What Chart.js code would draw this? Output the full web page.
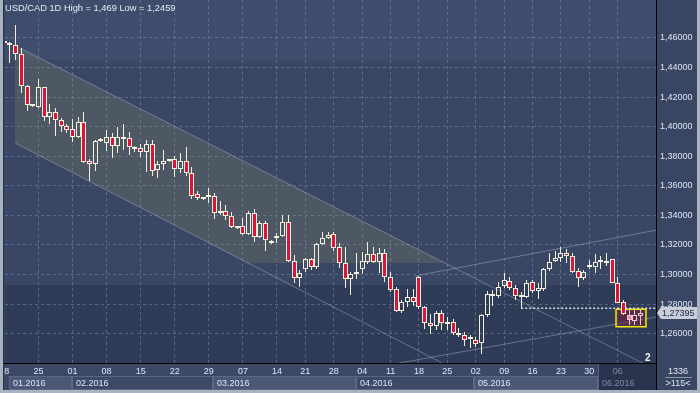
<!DOCTYPE html>
<html><head><meta charset="utf-8">
<script src="https://cdn.jsdelivr.net/npm/chart.js@4.4.0/dist/chart.umd.min.js"></script>
<style>
html,body{margin:0;padding:0;background:#3a4866;overflow:hidden}
canvas{display:block}
</style></head><body>
<canvas id="c" width="700" height="393"></canvas>
<script>
// ---- data (candle index k = trading day, k=0 is the partly hidden first candle) ----
const openP  = [1.4563,1.4555,1.4553,1.4490,1.4275,1.4141,1.4135,1.4266,1.4067,1.4099,1.4045,1.4005,1.3984,1.3928,1.4030,1.3768,1.3745,1.3903,1.3888,1.3928,1.3871,1.3928,1.3921,1.3860,1.3854,1.3831,1.3883,1.3707,1.3745,1.3767,1.3779,1.3712,1.3768,1.3685,1.3542,1.3509,1.3525,1.3531,1.3414,1.3429,1.3396,1.3312,1.3328,1.3272,1.3414,1.3252,1.3346,1.3229,1.3245,1.3262,1.3357,1.3093,1.2974,1.3035,1.3103,1.3049,1.3204,1.3245,1.3272,1.3188,1.3076,1.2967,1.3001,1.3035,1.3087,1.3137,1.3087,1.3143,1.2981,1.2900,1.2755,1.2816,1.2846,1.2981,1.2782,1.2670,1.2651,1.2737,1.2663,1.2676,1.2602,1.2591,1.2561,1.2557,1.2534,1.2726,1.2868,1.2852,1.2922,1.2958,1.2906,1.2846,1.2846,1.2951,1.2890,1.2900,1.3035,1.3093,1.3114,1.3143,1.3125,1.3024,1.2974,1.3052,1.3049,1.3087,1.3076,1.3103,1.2940,1.2816,1.2726,1.2687,1.2721];
const highP  = [1.4568,1.4575,1.4690,1.4530,1.4280,1.4153,1.4321,1.4270,1.4153,1.4124,1.4061,1.4018,1.4054,1.4068,1.4097,1.3779,1.3910,1.3921,1.3978,1.3955,1.3996,1.4018,1.3966,1.3869,1.3883,1.3910,1.3910,1.3770,1.3842,1.3775,1.3802,1.3820,1.3865,1.3729,1.3565,1.3526,1.3583,1.3553,1.3499,1.3470,1.3425,1.3328,1.3384,1.3432,1.3441,1.3362,1.3362,1.3233,1.3283,1.3402,1.3402,1.3132,1.3030,1.3109,1.3111,1.3211,1.3290,1.3290,1.3290,1.3215,1.3184,1.3019,1.3143,1.3150,1.3218,1.3184,1.3177,1.3170,1.3015,1.2917,1.2827,1.2900,1.2900,1.2990,1.2785,1.2730,1.2755,1.2760,1.2714,1.2697,1.2636,1.2613,1.2591,1.2575,1.2733,1.2888,1.2895,1.2951,1.3012,1.2983,1.2929,1.2883,1.2963,1.2963,1.2944,1.3042,1.3147,1.3161,1.3184,1.3170,1.3143,1.3042,1.3030,1.3098,1.3139,1.3125,1.3143,1.3106,1.2985,1.2827,1.2760,1.2760,1.2760];
const lowP   = [1.4560,1.4429,1.4451,1.4226,1.4108,1.4131,1.4124,1.4040,1.4018,1.3939,1.3966,1.3959,1.3898,1.3921,1.3756,1.3634,1.3702,1.3898,1.3838,1.3786,1.3820,1.3842,1.3808,1.3831,1.3793,1.3695,1.3666,1.3651,1.3707,1.3763,1.3660,1.3685,1.3666,1.3509,1.3504,1.3504,1.3482,1.3375,1.3402,1.3369,1.3312,1.3306,1.3267,1.3267,1.3222,1.3245,1.3161,1.3206,1.3211,1.3256,1.3087,1.2944,1.2917,1.3019,1.3030,1.3035,1.3199,1.3238,1.3161,1.3042,1.2906,1.2861,1.2967,1.3003,1.3069,1.3076,1.3008,1.2951,1.2883,1.2748,1.2741,1.2778,1.2787,1.2764,1.2629,1.2595,1.2624,1.2624,1.2624,1.2591,1.2575,1.2516,1.2500,1.2511,1.2459,1.2710,1.2787,1.2841,1.2906,1.2895,1.2827,1.2771,1.2839,1.2873,1.2834,1.2890,1.3026,1.3082,1.3087,1.3080,1.3012,1.2913,1.2963,1.3035,1.3012,1.3035,1.3057,1.2940,1.2805,1.2726,1.2658,1.2658,1.2658];
const closeP = [1.4565,1.4559,1.4490,1.4277,1.4147,1.4144,1.4266,1.4067,1.4097,1.4045,1.4005,1.3978,1.3928,1.4030,1.3763,1.3745,1.3903,1.3915,1.3928,1.3871,1.3928,1.3915,1.3860,1.3847,1.3831,1.3883,1.3702,1.3747,1.3768,1.3769,1.3712,1.3768,1.3685,1.3533,1.3515,1.3519,1.3527,1.3414,1.3432,1.3396,1.3319,1.3323,1.3272,1.3414,1.3252,1.3346,1.3233,1.3211,1.3260,1.3357,1.3093,1.2974,1.3008,1.3103,1.3049,1.3206,1.3245,1.3267,1.3181,1.3076,1.2967,1.3003,1.3012,1.3091,1.3137,1.3087,1.3143,1.2985,1.2895,1.2755,1.2816,1.2846,1.2816,1.2782,1.2670,1.2653,1.2737,1.2670,1.2676,1.2602,1.2591,1.2557,1.2563,1.2530,1.2726,1.2868,1.2854,1.2912,1.2961,1.2910,1.2854,1.2854,1.2944,1.2890,1.2906,1.3035,1.3086,1.3109,1.3143,1.3125,1.3015,1.2974,1.3015,1.3054,1.3087,1.3098,1.3093,1.2940,1.2809,1.2733,1.2692,1.2726,1.27395];

// week ticks on the time axis (candle index -> day label)
const weekTickIdx    = [6,12,18,24,30,36,42,48,53,58,63,68,73,78,83,88,93,98,103,108];
const weekTickLabels = ['25','01','08','15','22','29','07','14','21','28','04','11','18','25','02','09','16','23','30','06'];
const hiddenTick = {idx: 0, label: '18'};
// month bands (start index) and labels
const monthStart  = [0.88, 11.86, 36.79, 61.9, 82.7, 104.6];
const monthLabels = ['01.2016','02.2016','03.2016','04.2016','05.2016','06.2016'];
// price axis ticks
const yTickValues = [1.26,1.28,1.30,1.32,1.34,1.36,1.38,1.40,1.42,1.44,1.46];

// drawn objects (index, price)
const channelFillPts = [{x:1.88,y:1.4549},{x:77.57,y:1.3078},{x:42.9,y:1.3078},{x:1.88,y:1.3890},{x:1.88,y:1.4549}];
const downUpperLine = [{x:2.76,y:1.4532},{x:116,y:1.2330}];
const downLowerLine = [{x:1.88,y:1.3890},{x:80.22,y:1.2339}];
const upUpperLine   = [{x:72.3,y:1.2990},{x:116,y:1.3309}];
const upLowerLine   = [{x:69,y:1.2397},{x:116,y:1.2721}];
const supportLine   = [{x:91,y:1.2771},{x:116,y:1.2771}];
const boxPts = [{x:107.69,y:1.2764},{x:112.97,y:1.2764},{x:112.97,y:1.2647},{x:107.69,y:1.2647},{x:107.69,y:1.2764}];

const titleText = 'USD/CAD 1D High = 1,469 Low = 1,2459';
const barCountText = ['1336','>115<'];

// ---- styles ----
const FONT = '"Liberation Sans", Arial, sans-serif';
const highlightFrom = 110;
const CREAM = '#f5f0dc', RED = '#dc143c', PINK = '#ea8c9e', PINKB = '#f4c4ce';
const TXT = '#dde6f3', GREYTXT = '#7f8ba3';
Chart.defaults.font.family = FONT;
Chart.defaults.font.size = 9;

const N = openP.length;
const up = k => closeP[k] >= openP[k];
const wickUp = openP.map((o,k)=>({x:k, y:[Math.max(o,closeP[k]), highP[k]]}));
const wickDn = openP.map((o,k)=>({x:k, y:[lowP[k], Math.min(o,closeP[k])]}));
const body   = openP.map((o,k)=>({x:k, y:[o, closeP[k]]}));
const hl = k => k >= highlightFrom;
const wickCol = openP.map((o,k)=> hl(k) ? PINKB : CREAM);
const bodyFill = openP.map((o,k)=> up(k) ? 'rgba(0,0,0,0)' : (hl(k) ? PINK : RED));
const bodyBorder = openP.map((o,k)=> hl(k) ? PINKB : CREAM);

const lineCol = 'rgba(175,185,200,0.45)';
const lineDs = (data, order) => ({type:'line', data, borderColor: lineCol, borderWidth:1, pointRadius:0, fill:false, order});

// pixel-snap the candle bars so they render crisp
const snap = {
  id: 'snap',
  beforeDatasetsDraw(chart) {
    chart.data.datasets.forEach((ds, i) => {
      if (ds.type !== 'bar') return;
      chart.getDatasetMeta(i).data.forEach(el => {
        el.x = Math.floor(el.x) + 0.5;
        el.y = Math.round(el.y);
        el.base = Math.round(el.base);
      });
    });
  }
};

const deco = {
  id: 'deco',
  beforeDraw(chart) {
    const {ctx, chartArea: a, scales: {x}} = chart;
    const W = chart.width, H = chart.height;
    ctx.save();
    ctx.fillStyle = '#3a4866'; ctx.fillRect(0,0,W,H);
    // plot background bands
    ctx.fillStyle = '#3e4d6b'; ctx.fillRect(a.left, a.top, a.right-a.left, 60-a.top);
    ctx.fillStyle = '#394765'; ctx.fillRect(a.left, 60, a.right-a.left, 285-60);
    ctx.fillStyle = '#2f3c58'; ctx.fillRect(a.left, 285, a.right-a.left, a.bottom-285);
    // right panel
    ctx.fillStyle = '#384664'; ctx.fillRect(a.right, 0, W-a.right, H);
    // axis strip
    ctx.fillStyle = '#3b4967'; ctx.fillRect(0, a.bottom, a.right, H-a.bottom);
    // month boxes
    for (let m = 0; m < monthStart.length; m++) {
      const x0 = Math.round(x.getPixelForValue(monthStart[m]));
      const x1 = m+1 < monthStart.length ? Math.round(x.getPixelForValue(monthStart[m+1])) : a.right;
      if (m === monthStart.length-1) {
        ctx.fillStyle = '#29334d';
        ctx.fillRect(x0, a.bottom+1, x1-x0, 390-a.bottom-1);
        ctx.strokeStyle = '#56637f'; ctx.lineWidth = 1;
        ctx.beginPath(); ctx.moveTo(x0+0.5, a.bottom+1); ctx.lineTo(x0+0.5, 390); ctx.stroke();
      } else {
        ctx.fillStyle = (m % 2 === 0) ? '#4a5876' : '#3c4a68';
        ctx.fillRect(x0, 377, x1-x0, 13);
        ctx.strokeStyle = '#5a6886'; ctx.lineWidth = 1;
        ctx.strokeRect(x0+0.5, 376.5, x1-x0-1, 13);
      }
    }
    ctx.restore();
  },
  afterDraw(chart) {
    const {ctx, chartArea: a, scales: {x, y}} = chart;
    const W = chart.width, H = chart.height;
    ctx.save();
    ctx.font = '9px ' + FONT;
    ctx.textBaseline = 'middle';
    // title
    ctx.fillStyle = '#e6ebf4'; ctx.textAlign = 'left';
    ctx.font = '9.3px ' + FONT;
    ctx.fillText(titleText, 5, 8);
    ctx.font = '9px ' + FONT;
    // month labels
    for (let m = 0; m < monthStart.length; m++) {
      const x0 = x.getPixelForValue(monthStart[m]);
      ctx.fillStyle = m === monthStart.length-1 ? GREYTXT : TXT;
      ctx.fillText(monthLabels[m], Math.round(x0)+4, 383.5);
    }
    // clipped first day label
    ctx.save();
    ctx.beginPath(); ctx.rect(4, a.bottom, 20, 14); ctx.clip();
    ctx.textAlign = 'center'; ctx.fillStyle = TXT;
    ctx.fillText(hiddenTick.label, x.getPixelForValue(hiddenTick.idx), 371.5);
    ctx.restore();
    // axis lines
    ctx.strokeStyle = '#000'; ctx.lineWidth = 1;
    ctx.beginPath(); ctx.moveTo(a.right+0.5, a.bottom); ctx.lineTo(a.right+0.5, 390); ctx.stroke();
    ctx.beginPath(); ctx.moveTo(3, a.bottom+0.5); ctx.lineTo(a.left, a.bottom+0.5); ctx.stroke();
    // bar count box
    ctx.textAlign = 'center'; ctx.fillStyle = TXT;
    ctx.fillText(barCountText[0], 678, 371.5);
    ctx.fillText(barCountText[1], 678, 384);
    ctx.strokeStyle = '#8c98ae';
    ctx.beginPath(); ctx.moveTo(665, 377.5); ctx.lineTo(692, 377.5); ctx.stroke();
    // "2" label at channel end
    ctx.fillStyle = '#f0f3f8'; ctx.font = 'bold 10px ' + FONT;
    ctx.fillText('2', x.getPixelForValue(113.3), 358);
    // last price tag
    const last = closeP[N-1];
    const py = Math.round(y.getPixelForValue(last));
    ctx.fillStyle = '#c9ced8';
    ctx.beginPath();
    ctx.moveTo(a.right+1, py); ctx.lineTo(a.right+5, py-6); ctx.lineTo(697, py-6);
    ctx.lineTo(697, py+6); ctx.lineTo(a.right+5, py+6); ctx.closePath(); ctx.fill();
    ctx.fillStyle = '#1d2740'; ctx.textAlign = 'left'; ctx.font = '9px ' + FONT;
    ctx.fillText(last.toFixed(5).replace('.', ','), 662, py+0.5);
    // frame
    ctx.fillStyle = '#a9b2c1';
    ctx.fillRect(0, 0, 3, H); ctx.fillRect(0, 390, W, 3); ctx.fillRect(697, 0, 3, H);
    ctx.fillStyle = '#26304a';
    ctx.fillRect(3, 0, 1, 390);
    ctx.restore();
  }
};

new Chart(document.getElementById('c'), {
  type: 'bar',
  data: { datasets: [
    {type:'line', data: channelFillPts, fill:'shape', backgroundColor:'rgba(140,138,105,0.26)', borderWidth:0, borderColor:'rgba(0,0,0,0)', pointRadius:0, order:20},
    lineDs(downUpperLine, 19), lineDs(downLowerLine, 19), lineDs(upUpperLine, 19), lineDs(upLowerLine, 19),
    {type:'line', data: boxPts, fill:'shape', backgroundColor:'rgba(120,30,60,0.5)', borderColor:'#f2ea00', borderWidth:1.5, pointRadius:0, order:15},
    {type:'line', data: supportLine, borderColor:'#d6dbe6', borderWidth:1.5, borderDash:[2,2], pointRadius:0, fill:false, order:14},
    {type:'bar', data: wickUp, backgroundColor: wickCol, barThickness:1, grouped:false, inflateAmount:0, order:5},
    {type:'bar', data: wickDn, backgroundColor: wickCol, barThickness:1, grouped:false, inflateAmount:0, order:5},
    {type:'bar', data: body, backgroundColor: bodyFill, borderColor: bodyBorder, borderWidth:1, borderSkipped:false, barThickness:5, minBarLength:2, grouped:false, inflateAmount:0, order:4}
  ]},
  options: {
    responsive: false, animation: false, events: [],
    layout: { padding: {left:5, top:0, right:0, bottom:0}, autoPadding: false },
    plugins: { legend: {display:false}, tooltip: {enabled:false}, title: {display:false} },
    scales: {
      x: {
        type: 'linear', min: 0.12, max: 114.73, offset: false,
        afterBuildTicks: s => { s.ticks = weekTickIdx.map(v => ({value: v})); },
        afterFit: s => { s.height = 30; s.paddingLeft = 0; s.paddingRight = 0; s.paddingTop = 0; s.paddingBottom = 0; },
        ticks: {
          autoSkip: false, maxRotation: 0, padding: 3, includeBounds: false,
          color: c => (c.tick && c.tick.value >= monthStart[monthStart.length-1]) ? GREYTXT : TXT,
          callback: v => weekTickLabels[weekTickIdx.indexOf(v)]
        },
        grid: { color: 'rgba(125,145,180,0.5)', drawTicks: false, offset: false },
        border: { display: true, color: '#000', width: 1, dash: [3,3] }
      },
      y: {
        type: 'linear', position: 'right', min: 1.24011, max: 1.48571, beginAtZero: false,
        afterBuildTicks: s => { s.ticks = yTickValues.map(v => ({value: v})); },
        afterFit: s => { s.width = 44; s.paddingTop = 0; s.paddingBottom = 0; s.paddingLeft = 0; s.paddingRight = 0; },
        ticks: { padding: 4, color: TXT, crossAlign: 'near', includeBounds: false,
          callback: v => Number(v).toFixed(5).replace('.', ',') },
        grid: { color: 'rgba(125,145,180,0.5)', drawTicks: false },
        border: { display: true, color: '#000', width: 1, dash: [3,3] }
      }
    }
  },
  plugins: [deco, snap]
});
</script>
</body></html>
